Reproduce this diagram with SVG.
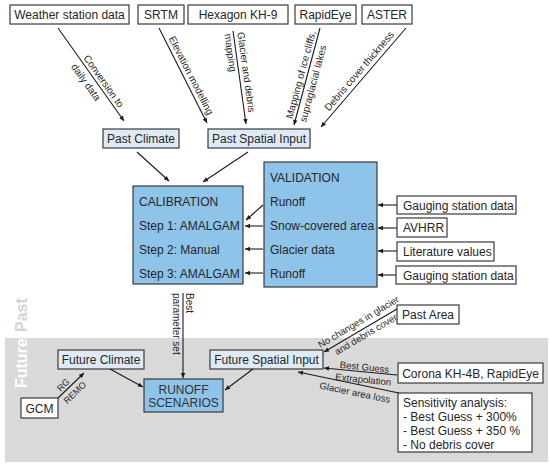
<svg xmlns="http://www.w3.org/2000/svg" width="550" height="465" viewBox="0 0 550 465">
<style>
.box{fill:#ffffff;stroke:#3a3a3a;stroke-width:1.2}
.lb{fill:#deebf7;stroke:#3a3a3a;stroke-width:1.2}
.db{fill:#8ec4e9;stroke:#3a3a3a;stroke-width:1.2}
text{font-family:"Liberation Sans",Arial,sans-serif;fill:#262626}
.t{font-size:12px}
.m{text-anchor:middle}
.s{font-size:10px}
.q{font-size:9px}
.p{font-size:9.6px}
.c{stroke:#1a1a1a;stroke-width:1.1;fill:none;marker-end:url(#ah)}
.era{font-size:16px;font-weight:bold}
</style>
<defs>
<marker id="ah" viewBox="0 0 10 10" refX="10" refY="5" markerWidth="6" markerHeight="5" markerUnits="userSpaceOnUse" orient="auto">
<path d="M0,0.5 L10,5 L0,9.5 z" fill="#1a1a1a"/>
</marker>
</defs>
<rect id="future-band" x="5" y="338" width="543" height="124" fill="#d9d9d9"/>
<text class="era" style="fill:#d4d4d4" transform="translate(27,332) rotate(-90)">Past</text>
<text class="era" style="fill:#ffffff" transform="translate(27,388) rotate(-90)">Future</text>

<g id="weather"><rect class="box" x="10" y="5" width="119" height="19"/><text class="t m" x="69.5" y="19">Weather station data</text></g>
<g id="srtm"><rect class="box" x="138" y="5" width="46" height="19"/><text class="t m" x="161" y="19">SRTM</text></g>
<g id="hexagon"><rect class="box" x="188" y="5" width="100" height="19"/><text class="t m" x="238" y="19">Hexagon KH-9</text></g>
<g id="rapideye"><rect class="box" x="295" y="5" width="61" height="19"/><text class="t m" x="325.5" y="19">RapidEye</text></g>
<g id="aster"><rect class="box" x="362" y="5" width="50" height="19"/><text class="t m" x="387" y="19">ASTER</text></g>

<g id="past-climate"><rect class="lb" x="103" y="129" width="76" height="19"/><text class="t m" x="141" y="143">Past Climate</text></g>
<g id="past-spatial"><rect class="lb" x="208" y="129" width="102" height="19"/><text class="t m" x="259" y="143">Past Spatial Input</text></g>

<g id="calibration"><rect class="db" x="133" y="186" width="110" height="98"/>
<text class="t" x="139" y="206">CALIBRATION</text>
<text class="t" x="139" y="230">Step 1: AMALGAM</text>
<text class="t" x="139" y="254">Step 2: Manual</text>
<text class="t" x="139" y="278">Step 3: AMALGAM</text></g>
<g id="validation"><rect class="db" x="264" y="162" width="113" height="125"/>
<text class="t" x="270" y="182">VALIDATION</text>
<text class="t" x="270" y="206">Runoff</text>
<text class="t" x="270" y="230">Snow-covered area</text>
<text class="t" x="270" y="254">Glacier data</text>
<text class="t" x="270" y="278">Runoff</text></g>

<g id="gauging1"><rect class="box" x="397" y="196" width="119" height="18"/><text class="t" x="403" y="209.5">Gauging station data</text></g>
<g id="avhrr"><rect class="box" x="397" y="218" width="50" height="19"/><text class="t" x="403" y="232">AVHRR</text></g>
<g id="literature"><rect class="box" x="397" y="242" width="97" height="19"/><text class="t" x="403" y="256">Literature values</text></g>
<g id="gauging2"><rect class="box" x="396" y="266" width="120" height="18"/><text class="t" x="403" y="279.5">Gauging station data</text></g>

<g id="future-climate"><rect class="lb" x="58" y="350" width="86" height="19"/><text class="t m" x="101" y="364">Future Climate</text></g>
<g id="gcm"><rect class="box" x="21" y="398" width="37" height="20"/><text class="t m" x="39.5" y="412.5">GCM</text></g>
<g id="runoff"><rect class="db" x="144" y="379" width="79" height="33"/>
<text class="t m" x="183.5" y="394" style="fill:#333">RUNOFF</text>
<text class="t m" x="183.5" y="407" style="fill:#333">SCENARIOS</text></g>
<g id="future-spatial"><rect class="lb" x="210" y="350" width="113" height="19"/><text class="t m" x="266.5" y="364">Future Spatial Input</text></g>
<g id="past-area"><rect class="box" x="397" y="305" width="62" height="19"/><text class="t m" x="428" y="319">Past Area</text></g>
<g id="corona"><rect class="box" x="398" y="363" width="145" height="20"/><text class="t m" x="470.5" y="377.5">Corona KH-4B, RapidEye</text></g>
<g id="sensitivity"><rect class="box" x="398" y="393" width="134" height="59"/>
<text class="t" x="403" y="407">Sensitivity analysis:</text>
<text class="t" x="403" y="421">- Best Guess + 300%</text>
<text class="t" x="403" y="435">- Best Guess + 350 %</text>
<text class="t" x="403" y="449">- No debris cover</text></g>

<g id="connectors">
<line class="c" x1="58" y1="28" x2="124" y2="121"/>
<line class="c" x1="159" y1="28" x2="207" y2="123"/>
<line class="c" x1="233" y1="31" x2="246" y2="124"/>
<line class="c" x1="320" y1="28" x2="294" y2="125"/>
<line class="c" x1="406" y1="28" x2="321" y2="127"/>
<line class="c" x1="137" y1="152" x2="169" y2="181"/>
<line class="c" x1="248" y1="152" x2="203" y2="182"/>
<line class="c" x1="263" y1="205" x2="246" y2="220"/>
<line class="c" x1="263" y1="226" x2="245" y2="226"/>
<line class="c" x1="263" y1="249" x2="245" y2="249"/>
<line class="c" x1="263" y1="273" x2="245" y2="273"/>
<line class="c" x1="397" y1="205" x2="378" y2="205"/>
<line class="c" x1="397" y1="228" x2="378" y2="228"/>
<line class="c" x1="397" y1="251" x2="378" y2="251"/>
<line class="c" x1="396" y1="275" x2="378" y2="275"/>
<line class="c" x1="183" y1="293" x2="183" y2="378"/>
<line class="c" x1="110" y1="369" x2="143" y2="387"/>
<line class="c" x1="253" y1="369" x2="225" y2="390"/>
<line class="c" x1="58" y1="398" x2="84" y2="373"/>
<line class="c" x1="397" y1="309" x2="324" y2="352"/>
<line class="c" x1="397" y1="375" x2="324" y2="368"/>
<line class="c" x1="399" y1="393" x2="298" y2="372"/>

<g transform="translate(80.6,59.8) rotate(54.6)"><text class="s" x="0" y="-3">Conversion to</text><text class="s" x="0" y="12">daily data</text></g>
<g transform="translate(165,40) rotate(63.2)"><text class="s" x="0" y="-4">Elevation modelling</text></g>
<g transform="translate(233.3,33) rotate(82)"><text class="s" x="0" y="-4">Glacier and debris</text><text class="s" x="0" y="9">mapping</text></g>
<g transform="translate(295.3,120) rotate(-75)"><text class="s" x="0" y="-3">Mapping of ice cliffs,</text><text class="s" x="0" y="11">supraglacial lakes</text></g>
<g transform="translate(332,114) rotate(-49.4)"><text class="s" x="0" y="-4">Debris cover thickness</text></g>
<g transform="translate(183,293) rotate(90)"><text class="s" x="0" y="-3">Best</text><text class="s" x="0" y="10">parameter set</text></g>
<g transform="translate(68,388.3) rotate(-44)"><text class="q m" x="-1" y="-2.5">RG</text><text class="q m" x="2" y="11">REMO</text></g>
<g transform="translate(362.7,329) rotate(-30.7)"><text class="p m" x="0" y="-5">No changes in glacier</text><text class="p m" x="0" y="9.5">and debris cover</text></g>
<g transform="translate(364,372.4) rotate(5.7)"><text class="p m" x="0" y="-2">Best Guess</text><text class="p m" x="0" y="10.5">Extrapolation</text></g>
<g transform="translate(356.7,384) rotate(11.6)"><text class="p m" x="0" y="12">Glacier area loss</text></g>
</g>
</svg>
